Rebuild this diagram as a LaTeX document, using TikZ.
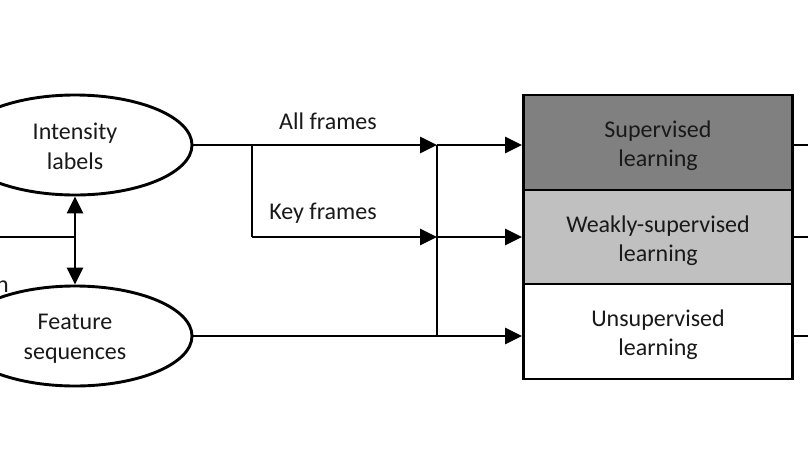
\documentclass[tikz,border=0pt]{standalone}
\usepackage{fontspec}
\setmainfont{Carlito}
\usetikzlibrary{shapes.geometric,arrows.meta}
\definecolor{darkfill}{RGB}{128,128,128}
\definecolor{lightfill}{RGB}{192,192,192}
\definecolor{textc}{RGB}{25,25,25}
\tikzset{
  conn/.style={line width=2.9pt, draw=black},
  arr/.style={conn, -{Triangle[length=17pt,width=16pt]}},
  arrboth/.style={conn, {Triangle[length=17pt,width=16pt]}-{Triangle[length=17pt,width=16pt]}},
  ellnode/.style={ellipse, draw=black, line width=2.9pt, minimum width=234pt, minimum height=100pt},
  learnbox/.style={rectangle, draw=black, line width=2.9pt, minimum width=269pt, inner sep=0pt},
  lbl/.style={text=textc, font=\fontsize{24}{29}\selectfont, inner sep=0pt, align=center},
}
\begin{document}
\begin{tikzpicture}[x=1pt,y=-1pt]
\useasboundingbox (0,0) rectangle (808,455);
\clip (0,0) rectangle (808,455);
\fill[white] (0,0) rectangle (808,455);

% ellipses
\node[ellnode] (int) at (75,145) {};
\node[ellnode] (feat) at (75,336) {};
\node[lbl, font=\fontsize{24}{30}\selectfont] (inttxt) at ([yshift=-1pt]int.center) {Intensity\\labels};
\node[lbl, font=\fontsize{24}{30}\selectfont] (feattxt) at ([yshift=-2.5pt]feat.center) {Feature\\sequences};

% learning boxes
\node[learnbox, fill=darkfill, minimum height=95pt] (sup) at (658,142.5) {};
\node[learnbox, fill=lightfill, minimum height=94pt] (weak) at (658,237) {};
\node[learnbox, fill=white, minimum height=95pt] (unsup) at (658,331.5) {};
\node[lbl] (suptxt) at ([yshift=-3.5pt]sup.center) {Supervised\\learning};
\node[lbl] (weaktxt) at ([yshift=-3.5pt]weak.center) {Weakly-supervised\\learning};
\node[lbl] (unsuptxt) at ([yshift=-3pt]unsup.center) {Unsupervised\\learning};

% coordinates
\coordinate (b1) at (252,145);
\coordinate (b2) at (252,237);
\coordinate (j1) at (437,145);
\coordinate (j2) at (437,237);
\coordinate (j3) at (437,336);
\coordinate (lin) at (-5,237);
\coordinate (o1) at (815,145);
\coordinate (o2) at (815,237);
\coordinate (o3) at (815,336);

% left incoming line and double arrow
\draw[arrboth] (int.south) -- (feat.north);
\draw[conn] (lin) -- (lin -| int.south);
\node[lbl, anchor=base east] (ncut) at (9,292) {n};

% frames connectors
\draw[arr] (int.east) -- (j1);
\draw[conn] (b1) -- (b2);
\draw[arr] (b2) -- (j2);
\draw[conn] (j1) -- (j3);
\draw[conn] (feat.east) -- (j3);
\draw[arr] (j1) -- (j1 -| sup.west);
\draw[arr] (j2) -- (j2 -| weak.west);
\draw[arr] (j3) -- (j3 -| unsup.west);

\node[lbl] (allf) at (328,121) {All frames};
\node[lbl] (keyf) at (323,213.5) {Key frames};

% outgoing lines
\draw[conn] (o1 -| sup.east) -- (o1);
\draw[conn] (o2 -| weak.east) -- (o2);
\draw[conn] (o3 -| unsup.east) -- (o3);
\end{tikzpicture}
\end{document}
